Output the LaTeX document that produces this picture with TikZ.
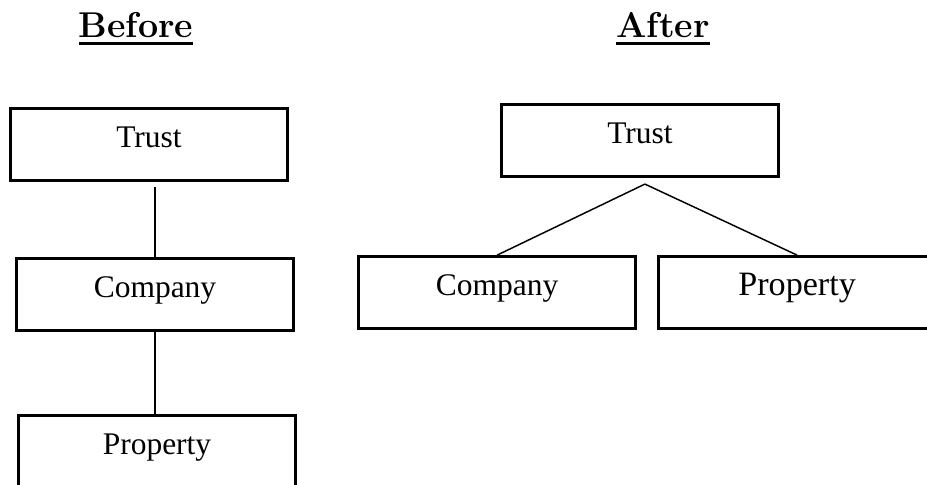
\documentclass[tikz,border=0pt]{standalone}
\usepackage{fontspec}
\usepackage{tikz}
\usetikzlibrary{positioning}
\newfontfamily\boxfont{Liberation Serif}
\newcommand{\ultitle}[1]{\setbox0\hbox{#1}\rlap{\rule[-6pt]{\wd0}{2.2pt}}\box0}

\begin{document}
\begin{tikzpicture}[
  box/.style={draw,line width=2.2pt,minimum width=73.3mm,minimum height=19.1mm,
              inner sep=0pt,text height=16.6pt,text depth=11.9pt,
              font=\boxfont\fontsize{23.7pt}{28pt}\selectfont},
  link/.style={line width=1.1pt},
  heading/.style={anchor=base,font=\bfseries\fontsize{27pt}{32pt}\selectfont}
]
\useasboundingbox (0,0) rectangle (245.27mm,-128.32mm);

% before
\node[heading] (before) at (35.98mm,-9.79mm) {\ultitle{Before}};
\node[box] (trust1) at (39.42mm,-38.23mm) {Trust};
\node[box,below=19.84mm of trust1,xshift=1.59mm] (company1) {Company};
\node[box,below=21.7mm of company1,xshift=0.53mm] (property1) {Property};
\draw[link,shorten <=1.3mm] (trust1.south -| company1.north) -- (company1.north);
\draw[link] (company1.south) -- (company1.south |- property1.north);

% after
\node[heading] (after) at (175.42mm,-9.79mm) {\ultitle{After}};
\node[box] (trust2) at (169.33mm,-37.17mm) {Trust};
\node[box,below=20.4mm of trust2,xshift=-37.8mm] (company2) {Company};
\node[box,right=5.3mm of company2,font=\boxfont\fontsize{25.7pt}{30pt}\selectfont] (property2) {Property};
\draw[link] ([xshift=1.3mm,yshift=-1.6mm]trust2.south) -- (company2.north);
\draw[link] ([xshift=1.3mm,yshift=-1.6mm]trust2.south) -- (property2.north);
\end{tikzpicture}
\end{document}
